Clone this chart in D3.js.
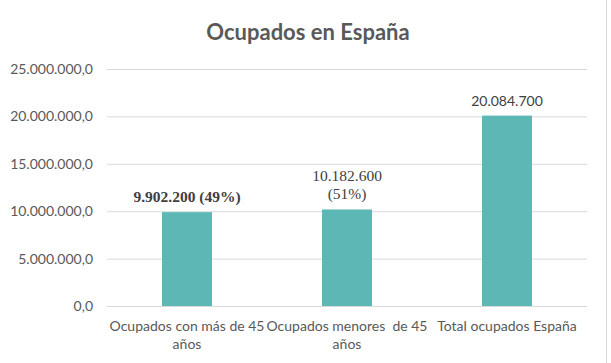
<!DOCTYPE html>
<html>
<head>
<meta charset="utf-8">
<script src="https://cdn.jsdelivr.net/npm/d3@7"></script>
<style>
  body { margin: 0; background: #fff; }
  svg { display: block; }
</style>
</head>
<body>
<svg id="chart"></svg>
<script>
const W = 611, H = 363;

// data
const categories = ["mas45", "menores45", "total"];
const catLines = [["Ocupados con más de 45", "años"], ["Ocupados menores  de 45", "años"], ["Total ocupados España"]];
const values = [9902200, 10182600, 20084700];
const valueLabels = [["9.902.200 (49%)"], ["10.182.600", "(51%)"], ["20.084.700"]];
const yTicks = [0, 5000000, 10000000, 15000000, 20000000, 25000000];

const col = {
  bar: "#5db8b5",
  text: "#595959",
  grid: "#d9d9d9",
  lbl: "#404040"
};

const m = { top: 69, right: 24, bottom: 57, left: 107 };

const svg = d3.select("#chart").attr("width", W).attr("height", H);

const x = d3.scaleBand()
  .domain(categories)
  .range([m.left, W - m.right])
  .paddingInner(0.6875)
  .paddingOuter(0.34375);

const y = d3.scaleLinear()
  .domain([0, 25000000])
  .range([H - m.bottom, m.top]);

// chart border (right edge only visible)
svg.append("line")
  .attr("x1", 606.5).attr("x2", 606.5).attr("y1", 0).attr("y2", H)
  .attr("stroke", "#d9d9d9");

// title
svg.append("text")
  .attr("x", 308).attr("y", 40)
  .attr("text-anchor", "middle")
  .style("font-family", "Lato, 'Open Sans', sans-serif")
  .style("font-weight", "bold")
  .style("font-size", "22px")
  .attr("fill", col.text)
  .text("Ocupados en España");

// y axis with gridlines
const fmt = v => d3.format(",.1f")(v).replace(/,/g, "#").replace(".", ",").replace(/#/g, ".");
const yAxis = svg.append("g")
  .attr("transform", `translate(${m.left},0)`)
  .call(d3.axisLeft(y).tickValues(yTicks).tickSize(-(W - m.right - m.left)).tickPadding(14).tickFormat(fmt));
yAxis.select(".domain").remove();
yAxis.selectAll(".tick line").attr("stroke", col.grid);
yAxis.selectAll(".tick text")
  .attr("fill", col.text)
  .style("font-family", "Lato, 'Open Sans', sans-serif")
  .style("font-size", "14px");

// bars
svg.append("g").selectAll("rect")
  .data(values)
  .join("rect")
  .attr("x", (d, i) => x(categories[i]))
  .attr("width", x.bandwidth())
  .attr("y", d => y(d))
  .attr("height", d => y(0) - y(d))
  .attr("fill", col.bar);

// value labels
const vl = svg.append("g").selectAll("text")
  .data(values)
  .join("text")
  .attr("text-anchor", "middle")
  .attr("fill", col.lbl)
  .attr("x", (d, i) => x(categories[i]) + x.bandwidth() / 2)
  .attr("y", (d, i) => y(d) - 10 - (valueLabels[i].length - 1) * 18)
  .style("font-family", (d, i) => i === 2 ? "Lato, 'Open Sans', sans-serif" : "'Liberation Serif', 'Times New Roman', serif")
  .style("font-weight", (d, i) => i === 0 ? "bold" : "normal")
  .style("font-size", (d, i) => i === 2 ? "14px" : "15.5px");
vl.each(function(d, i) {
  const t = d3.select(this);
  valueLabels[i].forEach((s, j) => {
    t.append("tspan")
      .attr("x", x(categories[i]) + x.bandwidth() / 2)
      .attr("dy", j === 0 ? 0 : 18)
      .text(s);
  });
});

// category labels
const xl = svg.append("g").selectAll("text")
  .data(categories)
  .join("text")
  .attr("text-anchor", "middle")
  .attr("fill", col.text)
  .attr("y", y(0) + 25)
  .style("font-family", "Lato, 'Open Sans', sans-serif")
  .style("font-size", "14px");
xl.each(function(d, i) {
  const t = d3.select(this);
  catLines[i].forEach((s, j) => {
    t.append("tspan")
      .attr("x", x(d) + x.bandwidth() / 2)
      .attr("dy", j === 0 ? 0 : 18)
      .style("white-space", "pre")
      .text(s);
  });
});
</script>
</body>
</html>
